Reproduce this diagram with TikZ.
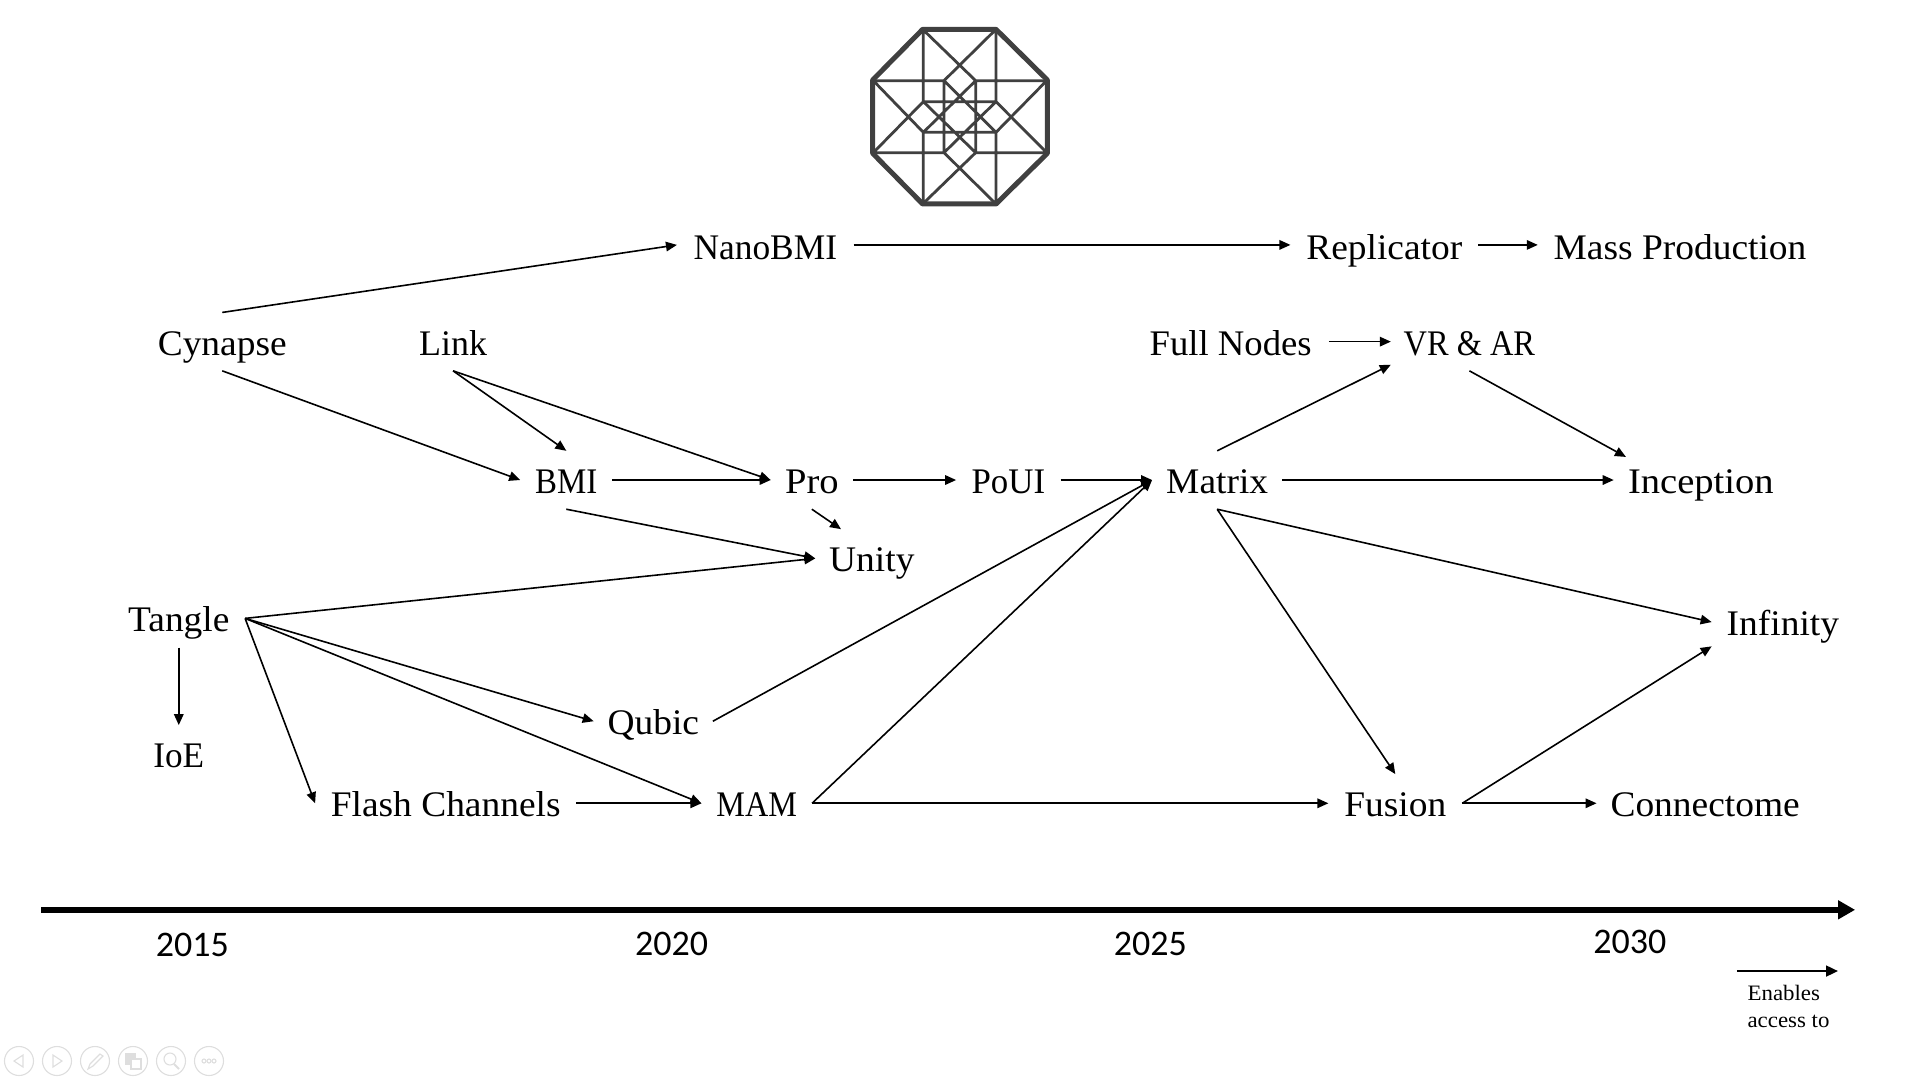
\documentclass[tikz,border=0pt]{standalone}
\usepackage{fontspec}
\usetikzlibrary{arrows.meta}
\setmainfont[FakeStretch=1.04]{Liberation Serif}
\newfontfamily\yearfont{Carlito}
\definecolor{hyper}{HTML}{404040}
\definecolor{tool}{HTML}{DEDEDE}
\tikzset{
  w/.style={minimum width=#1*1.2245pt},
  lab/.style={inner sep=0pt,minimum height=58pt,text height=32pt,text depth=5pt,align=center,font=\fontsize{36}{36}\selectfont},
  toprow/.style={text height=33.5pt,text depth=3.5pt},
  link/.style={-{Triangle[length=11pt,width=9.5pt]},line width=1.6pt,black},
  yearlab/.style={inner sep=0pt,font=\yearfont\fontsize{36}{36}\selectfont},
  notelab/.style={inner sep=0pt,align=left,anchor=north west,font=\fontsize{22}{27}\selectfont},
  thin hyper/.style={hyper,line width=2.8pt},
  toolicon/.style={tool,line width=1.1pt}
}
\newcommand{\squeeze}[2]{\scalebox{#1}[1]{#2}}
\begin{document}
\begin{tikzpicture}[x=1.2245pt,y=-1.2245pt]
\useasboundingbox (0,0) rectangle (1568.8,882);
% hypercube emblem
\begin{scope}[shift={(860pt,0pt)},x=0.3333pt,y=-0.3333pt]
 \draw[thin hyper]
  (190,88)--(190,305) (408,88)--(408,305) (190,397)--(190,612) (408,397)--(408,612)
  (38,242)--(252,242) (347,242)--(562,242) (38,458)--(252,458) (347,458)--(562,458)
  (252,242)--(252,458) (347,242)--(347,458) (190,305)--(408,305) (190,397)--(408,397)
  (188,88)--(347,242) (408,88)--(252,242) (38,240)--(190,397) (38,460)--(190,305)
  (562,240)--(408,397) (562,460)--(408,305) (188,612)--(347,458) (408,612)--(252,458)
  (190,305)--(347,458) (408,305)--(252,458) (252,242)--(408,397) (347,242)--(190,397);
 \draw[hyper,line width=5pt,line join=bevel]
  (188,88)--(408,88)--(562,240)--(562,460)--(408,612)--(188,612)--(38,460)--(38,240)--cycle;
\end{scope}
% nodes
\node[lab,toprow,w=144] (nano) at (625,200) {\squeeze{0.945}{NanoBMI}};
\node[lab,toprow,w=153] (repl) at (1130.5,200) {Replicator};
\node[lab,toprow,w=232] (mass) at (1372,200) {Mass Production};
\node[lab,w=130] (cyn) at (181.5,279) {Cynapse};
\node[lab,w=80] (lnk) at (370,279) {\squeeze{0.96}{Link}};
\node[lab,w=160] (full) at (1005,279) {\squeeze{0.98}{Full Nodes}};
\node[lab,w=128] (vr) at (1200,279) {\squeeze{0.865}{VR \& AR}};
\node[lab,w=75] (bmi) at (462.5,392) {\squeeze{0.88}{BMI}};
\node[lab,w=67] (pro) at (663,392) {\scalebox{1.03}[1]{Pro}};
\node[lab,w=85] (poui) at (823.5,392) {\squeeze{0.93}{PoUI}};
\node[lab,w=106] (mat) at (994,392) {Matrix};
\node[lab,w=142] (inc) at (1389,392) {\scalebox{1.03}[1]{Inception}};
\node[lab,w=92] (uni) at (712,456) {Unity};
\node[lab,w=108] (tan) at (146,505) {Tangle};
\node[lab,w=116] (inf) at (1456,508) {Infinity};
\node[lab,w=97] (qub) at (533.5,589) {Qubic};
\node[lab,w=60] (ioe) at (146,616) {\squeeze{0.94}{IoE}};
\node[lab,w=213] (fla) at (364,656) {Flash Channels};
\node[lab,w=90] (mam) at (618,656) {\squeeze{0.86}{MAM}};
\node[lab,w=109] (fus) at (1139.5,656) {Fusion};
\node[lab,w=177] (con) at (1392.5,656) {Connectome};
% connectors
\draw[link] (cyn.north) -- (nano.west);
\draw[link] (nano.east) -- (repl.west);
\draw[link] (repl.east) -- (mass.west);
\draw[link] (cyn.south) -- (bmi.west);
\draw[link] (lnk.south) -- (bmi.north);
\draw[link] (lnk.south) -- (pro.west);
\draw[link] (bmi.east) -- (pro.west);
\draw[link] (pro.east) -- (poui.west);
\draw[link] (poui.east) -- (mat.west);
\draw[link] (bmi.south) -- (uni.west);
\draw[link] (pro.south) -- ([shift={(21,0)}]uni.north west);
\draw[link] (full.east) -- (vr.west);
\draw[link] (mat.north) -- ([shift={(0,-5)}]vr.south west);
\draw[link] (vr.south) -- ([shift={(10,5)}]inc.north west);
\draw[link] (mat.east) -- (inc.west);
\draw[link] (mat.south) -- (inf.west);
\draw[link] (mat.south) -- (fus.north);
\draw[link] (tan.east) -- (uni.west);
\draw[link] (tan.east) -- (qub.west);
\draw[link] (tan.east) -- (mam.west);
\draw[link] (tan.east) -- (fla.west);
\draw[link] (tan.south) -- (ioe.north);
\draw[link] (fla.east) -- (mam.west);
\draw[link] (qub.east) -- (mat.west);
\draw[link] (mam.east) -- (mat.west);
\draw[link] (mam.east) -- (fus.west);
\draw[link] (fus.east) -- (con.west);
\draw[link] (fus.east) -- ([shift={(0,-4)}]inf.south west);
% timeline
\coordinate (axisA) at (33.5,743);
\coordinate (axisB) at (1515,743);
\draw[-{Triangle[length=17pt,width=18pt]},line width=6.5pt] (axisA) -- (axisB);
\node[yearlab] (y15) at (157,772) {2015};
\node[yearlab] (y20) at (548.5,771) {2020};
\node[yearlab] (y25) at (939.5,771) {2025};
\node[yearlab] (y30) at (1331,769.5) {2030};
% legend
\coordinate (legA) at (1418.5,793);
\coordinate (legB) at (1501,793);
\draw[-{Triangle[length=12pt,width=11pt]},line width=1.8pt] (legA) -- (legB);
\node[notelab] (note) at (1427,804.5) {Enables\\access to};
% viewer toolbar
\begin{scope}[shift={(0pt,-1061pt)},x=1pt,y=-1pt]
 \foreach \cx in {19,57,95,133,171,209} \draw[toolicon] (\cx,0) circle (14.5);
 \draw[toolicon] (23,-6)--(14,0)--(23,6)--cycle;
 \draw[toolicon] (53,-6)--(62,0)--(53,6)--cycle;
 \draw[toolicon] (88,8)--(90,3)--(100,-7)--(103,-5)--(93,5)--cycle;
 \draw[toolicon,fill=tool] (126,-7) rectangle (135,3);
 \draw[toolicon,fill=white] (131,-2) rectangle (141,8);
 \draw[toolicon] (170,-2) circle (6);
 \draw[toolicon,line width=2pt] (174,3)--(179,8);
 \foreach \cx in {204,209,214} \draw[toolicon] (\cx,0) circle (2);
\end{scope}
\end{tikzpicture}
\end{document}
